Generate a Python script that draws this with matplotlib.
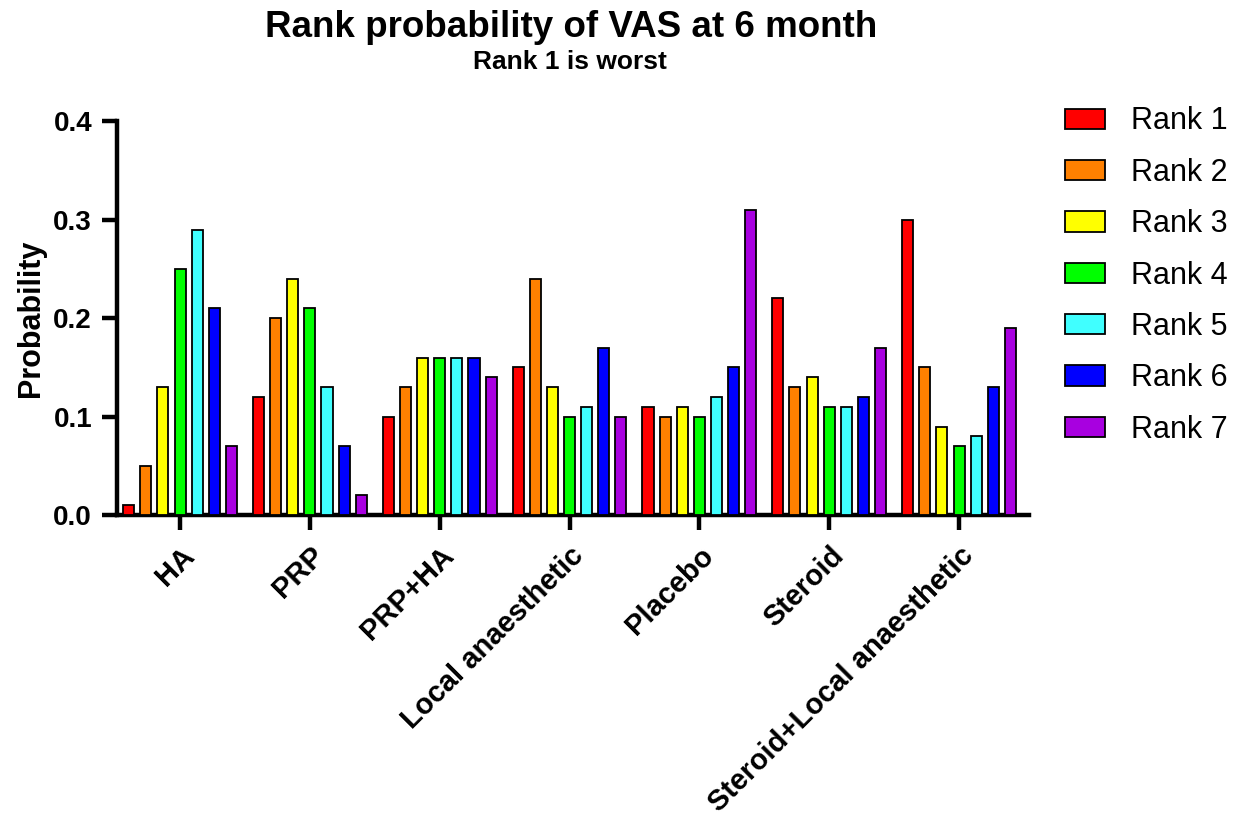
import matplotlib
matplotlib.use("Agg")
import matplotlib.pyplot as plt
import numpy as np
from matplotlib.patches import Patch

plt.rcParams['font.family'] = ['Liberation Sans', 'DejaVu Sans']

categories = ["HA", "PRP", "PRP+HA", "Local anaesthetic", "Placebo", "Steroid",
              "Steroid+Local anaesthetic"]
series_names = ["Rank 1", "Rank 2", "Rank 3", "Rank 4", "Rank 5", "Rank 6", "Rank 7"]
rank1 = [0.01, 0.12, 0.10, 0.15, 0.11, 0.22, 0.30]
rank2 = [0.05, 0.20, 0.13, 0.24, 0.10, 0.13, 0.15]
rank3 = [0.13, 0.24, 0.16, 0.13, 0.11, 0.14, 0.09]
rank4 = [0.25, 0.21, 0.16, 0.10, 0.10, 0.11, 0.07]
rank5 = [0.29, 0.13, 0.16, 0.11, 0.12, 0.11, 0.08]
rank6 = [0.21, 0.07, 0.16, 0.17, 0.15, 0.12, 0.13]
rank7 = [0.07, 0.02, 0.14, 0.10, 0.31, 0.17, 0.19]
series = [rank1, rank2, rank3, rank4, rank5, rank6, rank7]
colors = ["#FF0000", "#FF8000", "#FFFF00", "#00FF00", "#40FFFF", "#0000FF", "#A800E0"]
yticks = [0.0, 0.1, 0.2, 0.3, 0.4]

fig = plt.figure(figsize=(12.36, 8.19), dpi=100)
ax = fig.add_axes([0.0947, 0.371, 0.738, 0.481])

x = np.arange(len(categories))
pitch = 0.132
width = 0.085
for i, (vals, col) in enumerate(zip(series, colors)):
    ax.bar(x + (i - 3) * pitch, vals, width=width, color=col, edgecolor='black',
           linewidth=1.3, zorder=3)

ax.set_xlim(-0.485, 6.54)
ax.set_ylim(0, 0.4)
ax.set_yticks(yticks)
ax.set_yticklabels([f"{v:.1f}" for v in yticks], fontsize=20, fontweight='bold')
ax.set_xticks(x)
ax.set_xticklabels(categories, rotation=45, ha='right', rotation_mode='anchor',
                   fontsize=21, fontweight='bold')
for sp in ['top', 'right']:
    ax.spines[sp].set_visible(False)
for sp in ['left', 'bottom']:
    ax.spines[sp].set_linewidth(3.2)
ax.tick_params(axis='both', width=3.2, length=11, direction='out')
ax.tick_params(axis='x', pad=8)
ax.tick_params(axis='y', pad=7)
ax.set_ylabel("Probability", fontsize=22, fontweight='bold', labelpad=5)

fig.text(0.4624, 0.966, "Rank probability of VAS at 6 month", ha='center', va='center',
         fontsize=26.5, fontweight='bold')
fig.text(0.4615, 0.924, "Rank 1 is worst", ha='center', va='center',
         fontsize=19, fontweight='bold')

handles = [Patch(facecolor=c, edgecolor='black', linewidth=1.3, label=n)
           for c, n in zip(colors, series_names)]
fig.legend(handles=handles, loc='upper left', bbox_to_anchor=(1065 / 1236, 0.870),
           frameon=False, fontsize=22, handlelength=1.3, handleheight=0.65,
           labelspacing=0.7, handletextpad=0.85, borderpad=0, borderaxespad=0)

fig.savefig("out.png", dpi=100)
